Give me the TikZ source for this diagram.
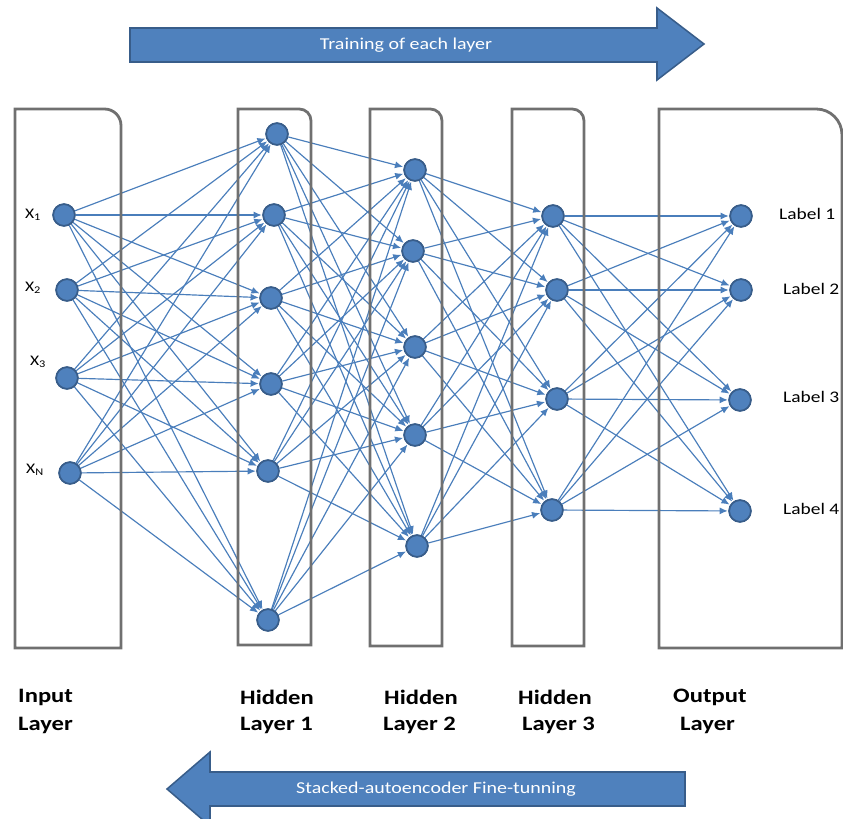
\documentclass[tikz,border=0pt]{standalone}
\usepackage{fontspec}
\setmainfont{Carlito}[FakeStretch=1.2]
\usetikzlibrary{arrows.meta}
\definecolor{ofblue}{HTML}{4F81BD}
\definecolor{ofdark}{HTML}{385D8A}
\definecolor{edgeblue}{HTML}{4A7EBB}
\definecolor{boxgray}{HTML}{707070}
\begin{document}
\begin{tikzpicture}[x=0.8536pt,y=-0.8536pt,
  neuron/.style={circle,fill=ofblue,draw=ofdark,line width=1.4pt,minimum size=18.5pt,inner sep=0pt},
  conn/.style={draw=edgeblue,line width=1pt,-{Latex[length=7pt,width=6pt]},shorten >=0.5pt},
  layerbox/.style={draw=boxgray,line width=2.4pt},
  bigarrow/.style={fill=ofblue,draw=ofdark,line width=1.3pt,line join=miter},
  arrowtext/.style={text=white,font=\fontsize{14.2}{16}\selectfont},
  layerlabel/.style={font=\bfseries\fontsize{17.5}{20}\selectfont,anchor=west,inner sep=0pt},
  xlabel/.style={font=\fontsize{12.5}{15}\selectfont,inner sep=0pt},
  outlabel/.style={font=\fontsize{13.8}{15}\selectfont,anchor=west,inner sep=0pt}]
\useasboundingbox (0,0) rectangle (843,819);

% big arrows
\draw[bigarrow] (130,28) -- (657,28) -- (657,8) -- (704,44) -- (657,80) -- (657,62) -- (130,62) -- cycle;
\node[arrowtext] (toptxt) at (406,45) {Training of each layer};
\draw[bigarrow] (685,772) -- (210,772) -- (210,752) -- (167,789) -- (210,826) -- (210,806) -- (685,806) -- cycle;
\node[arrowtext] (bottxt) at (436,789) {Stacked-autoencoder Fine-tunning};

% nodes
\node[neuron] (i1) at (64,215) {};
\node[neuron] (i2) at (67,290) {};
\node[neuron] (i3) at (67,378) {};
\node[neuron] (i4) at (70,473) {};

\node[neuron] (a1) at (277,134) {};
\node[neuron] (a2) at (274,215) {};
\node[neuron] (a3) at (271,298) {};
\node[neuron] (a4) at (271,384) {};
\node[neuron] (a5) at (268,471) {};
\node[neuron] (a6) at (268,620) {};

\node[neuron] (b1) at (415,170) {};
\node[neuron] (b2) at (413,251) {};
\node[neuron] (b3) at (415,347) {};
\node[neuron] (b4) at (415,435) {};
\node[neuron] (b5) at (417,546) {};

\node[neuron] (c1) at (553,216) {};
\node[neuron] (c2) at (557,290) {};
\node[neuron] (c3) at (557,399) {};
\node[neuron] (c4) at (552,510) {};

\node[neuron] (o1) at (741,216) {};
\node[neuron] (o2) at (741,290) {};
\node[neuron] (o3) at (740,400) {};
\node[neuron] (o4) at (740,511) {};

% connections
\foreach \s in {1,...,4} \foreach \t in {1,...,6} \draw[conn] (i\s) -- (a\t);
\foreach \s in {1,...,6} \foreach \t in {1,...,5} \draw[conn] (a\s) -- (b\t);
\foreach \s in {1,...,5} \foreach \t in {1,...,4} \draw[conn] (b\s) -- (c\t);
\foreach \s in {1,...,4} \foreach \t in {1,...,4} \draw[conn] (c\s) -- (o\t);

% layer boxes
\draw[layerbox] (15,648) -- (15,109) [rounded corners=14] -- (121,109) [sharp corners] -- (121,648) -- cycle;
\draw[layerbox] (238,645) -- (238,109) [rounded corners=10] -- (311,109) [sharp corners] -- (311,645) -- cycle;
\draw[layerbox] (370,646) -- (370,109) [rounded corners=10] -- (442,109) [sharp corners] -- (442,646) -- cycle;
\draw[layerbox] (512,646) -- (512,109) [rounded corners=10] -- (584,109) [sharp corners] -- (584,646) -- cycle;
\draw[layerbox] (659,648) -- (659,109) [rounded corners=22] -- (842,109) [sharp corners] -- (842,648) -- cycle;

% redraw nodes on top
\foreach \n in {i1,i2,i3,i4,a1,a2,a3,a4,a5,a6,b1,b2,b3,b4,b5,c1,c2,c3,c4,o1,o2,o3,o4}
  \fill[ofblue,draw=ofdark,line width=1.4pt] (\n.center) circle (9.25pt);

% input labels
\node[xlabel] (x1) at (33,215) {X\textsubscript{1}};
\node[xlabel] (x2) at (33,288) {X\textsubscript{2}};
\node[xlabel] (x3) at (38,362) {X\textsubscript{3}};
\node[xlabel] (xn) at (35,470) {X\textsubscript{N}};

% output labels
\node[outlabel] (l1) at (779,214) {Label 1};
\node[outlabel] (l2) at (783,289) {Label 2};
\node[outlabel] (l3) at (783,397) {Label 3};
\node[outlabel] (l4) at (783,509) {Label 4};

% layer names
\node[layerlabel] (n1a) at (18,697) {Input};
\node[layerlabel] (n1b) at (18,725) {Layer};
\node[layerlabel] (n2a) at (240,697) {Hidden};
\node[layerlabel] (n2b) at (240,725) {Layer 1};
\node[layerlabel] (n3a) at (384,697) {Hidden};
\node[layerlabel] (n3b) at (383,725) {Layer 2};
\node[layerlabel] (n4a) at (518,697) {Hidden};
\node[layerlabel] (n4b) at (522,725) {Layer 3};
\node[layerlabel] (n5a) at (673,697) {Output};
\node[layerlabel] (n5b) at (680,725) {Layer};
\end{tikzpicture}
\end{document}
